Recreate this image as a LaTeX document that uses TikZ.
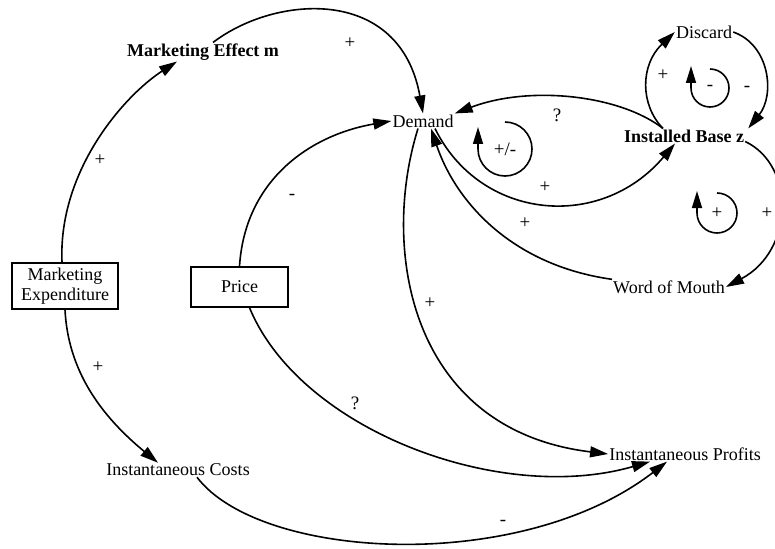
\documentclass[tikz,border=0pt]{standalone}
\usepackage{fontspec}
\setmainfont{Liberation Serif}
\usetikzlibrary{arrows.meta}
\begin{document}
\begin{tikzpicture}[x=1pt,y=1pt,
  lbl/.style={inner sep=1pt,font=\fontsize{18}{20}\selectfont},
  blbl/.style={inner sep=1pt,font=\fontsize{18}{20}\selectfont\bfseries},
  varbox/.style={draw,line width=1.3pt,inner sep=0pt,align=center,font=\fontsize{18}{20}\selectfont},
  link/.style={line width=1.6pt,-{Triangle[length=18pt,width=11pt]}},
  sgn/.style={inner sep=0pt,font=\fontsize{19}{19}\selectfont},
  loopar/.style={line width=1.6pt,-{Triangle[length=17pt,width=10pt]}}
]
\useasboundingbox (0,0) rectangle (775,-548);

% variables
\node[blbl] (me) at (203,-52) {Marketing Effect m};
\node[lbl] (dem) at (423,-121) {Demand};
\node[blbl] (ib) at (684,-136) {Installed Base z};
\node[lbl] (dis) at (704,-32) {Discard};
\node[lbl] (wom) at (669,-287) {Word of Mouth};
\node[varbox,minimum width=106pt,minimum height=46pt] (mexp) at (65,-286) {Marketing\\Expenditure};
\node[varbox,minimum width=97pt,minimum height=40pt] (price) at (239.5,-287) {Price};
\node[lbl] (ic) at (178,-470) {Instantaneous Costs};
\node[lbl] (ip) at (685,-454) {Instantaneous Profits};

% causal links
\draw[link] ([xshift=-3pt]mexp.north) .. controls (58,-170) and (125,-95) .. ([xshift=-26pt]me.south);
\draw[link] ([xshift=10pt]me.north) .. controls (275,5) and (400,15) .. (dem.north);
\draw[link] (price.north) .. controls (245,-180) and (310,-135) .. (dem.west);
\draw[link] ([xshift=-5pt]dem.south) .. controls (380,-250) and (410,-430) .. (ip.west);
\draw[link] ([xshift=10pt]price.south) .. controls (300,-430) and (500,-505) .. ([xshift=-35pt]ip.south);
\draw[link] ([xshift=19pt]ic.south) .. controls (260,-560) and (520,-575) .. ([xshift=-18pt]ip.south);
\draw[link] (mexp.south) .. controls (68,-370) and (100,-415) .. ([xshift=-20pt]ic.north);
\draw[link] ([xshift=-21pt]ib.north) .. controls (620,-95) and (530,-85) .. (dem.north east);
\draw[link] ([xshift=12pt]dem.south) .. controls (480,-220) and (600,-232) .. ([xshift=-9pt]ib.south);
\draw[link] (wom.north west) .. controls (510,-265) and (455,-200) .. ([xshift=8pt]dem.south);
\draw[link] ([yshift=2pt]ib.south east) .. controls (795,-165) and (795,-250) .. (wom.east);
\draw[link] ([xshift=-21pt]ib.north) .. controls (640,-105) and (640,-65) .. (dis.west);
\draw[link] (dis.east) .. controls (770,-45) and (775,-95) .. ([xshift=3pt]ib.north east);

% link polarities
\node[sgn] (s1) at (100,-160) {+};
\node[sgn] (s2) at (350,-43) {+};
\node[sgn] (s3) at (292,-197) {-};
\node[sgn] (s4) at (430,-303) {+};
\node[sgn] (s5) at (355,-403) {?};
\node[sgn] (s6) at (503,-523) {-};
\node[sgn] (s7) at (98,-367) {+};
\node[sgn] (s8) at (557,-115) {?};
\node[sgn] (s9) at (545,-187) {+};
\node[sgn] (s10) at (525,-223) {+};
\node[sgn] (s11) at (767,-213) {+};
\node[sgn] (s12) at (663,-75) {+};
\node[sgn] (s13) at (747,-89) {-};

% feedback loop markers
\node[sgn] (l1) at (505,-149) {+/-};
\draw[loopar] ([yshift=27pt]l1.center) arc[start angle=90,end angle=-180,radius=27] -- ++(0,22);
\node[sgn] (l2) at (710,-88) {-};
\draw[loopar] ([yshift=19pt]l2.center) arc[start angle=90,end angle=-180,radius=19] -- ++(0,22);
\node[sgn] (l3) at (717,-213) {+};
\draw[loopar] ([yshift=20pt]l3.center) arc[start angle=90,end angle=-180,radius=20] -- ++(0,22);
\end{tikzpicture}
\end{document}
